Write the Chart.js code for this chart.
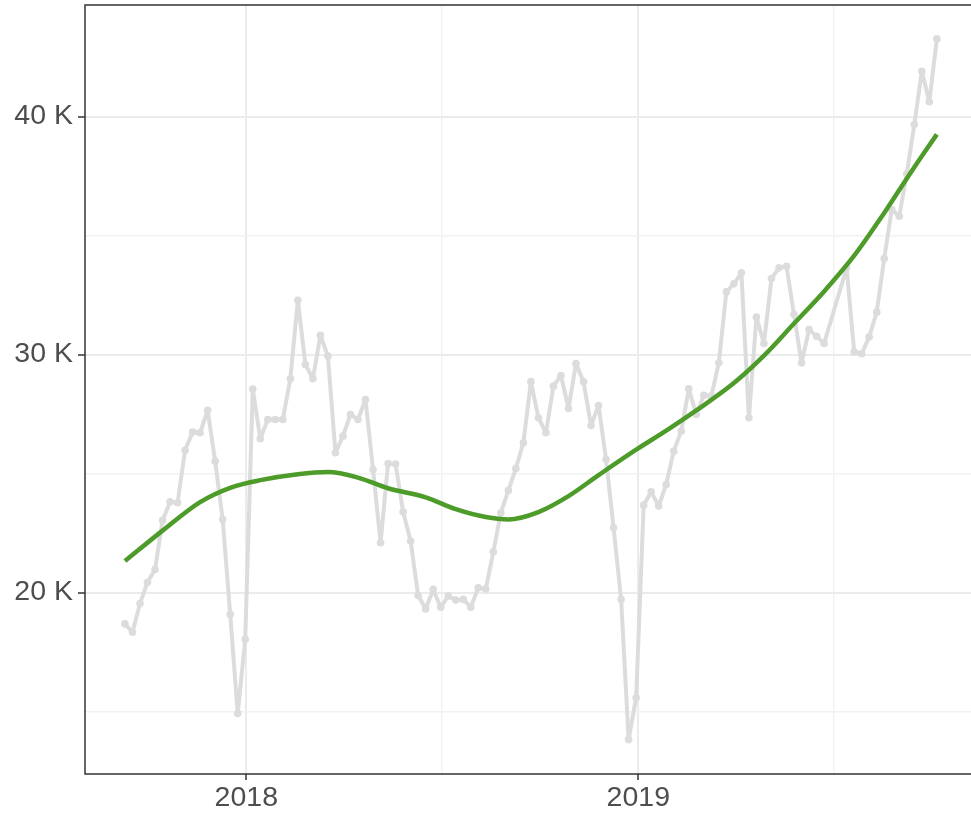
<!DOCTYPE html>
<html>
<head>
<meta charset="utf-8">
<script src="https://cdn.jsdelivr.net/npm/chart.js@4.4.1/dist/chart.umd.min.js"></script>
<style>
  html, body { margin: 0; padding: 0; background: #ffffff; }
  #wrap { width: 971px; height: 813px; }
</style>
</head>
<body>
<div id="wrap"><canvas id="myChart" width="971" height="813"></canvas></div>
<script>
// weekly counts (gray line with dots)
const weekDates = [
    '2017-09-10','2017-09-17','2017-09-24','2017-10-01','2017-10-08','2017-10-15','2017-10-22','2017-10-29',
    '2017-11-05','2017-11-12','2017-11-19','2017-11-26','2017-12-03','2017-12-10','2017-12-17','2017-12-24','2017-12-31',
    '2018-01-07','2018-01-14','2018-01-21','2018-01-28','2018-02-04','2018-02-11','2018-02-18','2018-02-25',
    '2018-03-04','2018-03-11','2018-03-18','2018-03-25','2018-04-01','2018-04-08','2018-04-15','2018-04-22','2018-04-29',
    '2018-05-06','2018-05-13','2018-05-20','2018-05-27','2018-06-03','2018-06-10','2018-06-17','2018-06-24',
    '2018-07-01','2018-07-08','2018-07-15','2018-07-22','2018-07-29','2018-08-05','2018-08-12','2018-08-19','2018-08-26',
    '2018-09-02','2018-09-09','2018-09-16','2018-09-23','2018-09-30','2018-10-07','2018-10-14','2018-10-21','2018-10-28',
    '2018-11-04','2018-11-11','2018-11-18','2018-11-25','2018-12-02','2018-12-09','2018-12-16','2018-12-23','2018-12-30',
    '2019-01-06','2019-01-13','2019-01-20','2019-01-27','2019-02-03','2019-02-10','2019-02-17','2019-02-24',
    '2019-03-03','2019-03-10','2019-03-17','2019-03-24','2019-03-31','2019-04-07','2019-04-14','2019-04-21','2019-04-28',
    '2019-05-05','2019-05-12','2019-05-19','2019-05-26','2019-06-02','2019-06-09','2019-06-16','2019-06-23',
    '2019-07-14','2019-07-21','2019-07-28','2019-08-04','2019-08-11','2019-08-18','2019-08-25',
    '2019-09-01','2019-09-08','2019-09-15','2019-09-22','2019-09-29','2019-10-06'
];
const weeklyValues = [
    18680, 18330, 19540, 20430, 20970, 23030, 23810, 23770,
    25980, 26740, 26710, 27660, 25520, 23070, 19080, 14920, 18030,
    28550, 26460, 27270, 27270, 27270, 28980, 32280, 29580,
    28980, 30810, 29930, 25870, 26570, 27480, 27270, 28110, 25170,
    22090, 25420, 25400, 23390, 22160, 19870, 19310, 20130,
    19380, 19850, 19680, 19710, 19380, 20200, 20150, 21710, 23350,
    24290, 25210, 26290, 28860, 27340, 26710, 28670, 29120, 27730,
    29620, 28850, 27020, 27860, 25590, 22720, 19710, 13820, 15580,
    23670, 24230, 23630, 24540, 25940, 26780, 28560, 27480,
    28290, 28250, 29650, 32630, 32970, 33430, 27340, 31570, 30460,
    33190, 33640, 33710, 31680, 29650, 31050, 30770, 30460,
    33640, 30110, 30030, 30740, 31780, 34030, 36090,
    35810, 37590, 39660, 41900, 40620, 43260
];

// smoothed trend (green)
const trendDates = [
    '2017-09-10','2017-10-15','2017-11-19','2017-12-17','2018-01-14','2018-02-18','2018-03-18',
    '2018-04-15','2018-05-13','2018-06-17','2018-07-15','2018-08-12','2018-09-02','2018-09-30',
    '2018-10-28','2018-11-25','2018-12-30','2019-01-27','2019-02-24','2019-03-31','2019-04-28',
    '2019-05-26','2019-06-23','2019-07-21','2019-08-18','2019-09-15','2019-10-06'
];
const trendValues = [
    21320, 22600, 23800, 24400, 24720, 24970, 25060,
    24830, 24380, 24000, 23500, 23170, 23070, 23380,
    24050, 24930, 26000, 26800, 27650, 28800, 29950,
    31300, 32650, 34150, 35950, 37870, 39250
];

const xTickDates = ['2018-01-01', '2018-07-02', '2019-01-01', '2019-07-02'];
const xTickLabels = ['2018', '', '2019', ''];
const yTickValues = [15000, 20000, 25000, 30000, 35000, 40000];
const yTickLabels = ['', '20 K', '', '30 K', '', '40 K'];

const toPoints = (dates, values) => dates.map((d, i) => ({ x: Date.parse(d), y: values[i] }));

// panel runs to the right edge of the canvas
const fullWidthPanel = {
    id: 'fullWidthPanel',
    afterLayout(chart) {
        const a = chart.chartArea;
        const x = chart.scales.x;
        a.right = chart.width;
        a.width = a.right - a.left;
        x.right = a.right;
        x.width = a.right - x.left;
        x.configure();
    }
};

const panelBorder = {
    id: 'panelBorder',
    afterDraw(chart) {
        const { ctx, chartArea: a } = chart;
        ctx.save();
        ctx.strokeStyle = '#333333';
        ctx.lineWidth = 1.5;
        ctx.strokeRect(a.left, a.top, a.right - a.left + 6, a.bottom - a.top);
        ctx.restore();
    }
};

const tickFont = { family: "'Liberation Sans', Arial, sans-serif", size: 28.5 };
const isMajor = (labels, i) => !!labels[i];

let ctx = document.getElementById('myChart').getContext('2d');

let myChart = new Chart(ctx, {
    type: 'line',
    data: {
        datasets: [
            {
                label: 'trend',
                data: toPoints(trendDates, trendValues),
                borderColor: '#4d9b29',
                borderWidth: 4.5,
                pointRadius: 0,
                cubicInterpolationMode: 'monotone',
                fill: false
            },
            {
                label: 'weekly',
                data: toPoints(weekDates, weeklyValues),
                borderColor: '#dcdcdc',
                backgroundColor: '#dcdcdc',
                borderWidth: 4,
                borderJoinStyle: 'round',
                borderCapStyle: 'round',
                pointRadius: 3.8,
                pointBorderWidth: 0,
                pointBackgroundColor: '#dcdcdc',
                tension: 0,
                fill: false
            }
        ]
    },
    options: {
        responsive: false,
        animation: false,
        devicePixelRatio: 1,
        layout: { padding: { top: 5, right: 0, bottom: 0, left: 0 } },
        plugins: {
            legend: { display: false },
            title: { display: false },
            tooltip: { enabled: false }
        },
        scales: {
            x: {
                type: 'linear',
                min: Date.parse('2017-08-03T19:12:00Z'),
                max: Date.parse('2019-11-06T19:12:00Z'),
                afterBuildTicks: (scale) => {
                    scale.ticks = xTickDates.map(d => ({ value: Date.parse(d) }));
                },
                afterFit: (scale) => {
                    scale.height = 39;
                    scale.paddingLeft = 0;
                    scale.paddingRight = 0;
                },
                border: { display: false },
                grid: {
                    color: (c) => isMajor(xTickLabels, c.index) ? '#ebebeb' : '#f2f2f2',
                    lineWidth: (c) => isMajor(xTickLabels, c.index) ? 2 : 1.5,
                    tickColor: (c) => isMajor(xTickLabels, c.index) ? '#333333' : 'rgba(0,0,0,0)',
                    tickWidth: 1.5,
                    tickLength: 6
                },
                ticks: {
                    autoSkip: false,
                    maxRotation: 0,
                    padding: 1,
                    color: '#4d4d4d',
                    font: tickFont,
                    callback: (value, index) => xTickLabels[index]
                }
            },
            y: {
                min: 12374,
                max: 44685,
                afterBuildTicks: (scale) => {
                    scale.ticks = yTickValues.map(v => ({ value: v }));
                },
                afterFit: (scale) => {
                    scale.width = 85;
                    scale.paddingTop = 0;
                    scale.paddingBottom = 0;
                },
                border: { display: false },
                grid: {
                    color: (c) => isMajor(yTickLabels, c.index) ? '#ebebeb' : '#f2f2f2',
                    lineWidth: (c) => isMajor(yTickLabels, c.index) ? 2 : 1.5,
                    tickColor: (c) => isMajor(yTickLabels, c.index) ? '#333333' : 'rgba(0,0,0,0)',
                    tickWidth: 1.5,
                    tickLength: 7
                },
                ticks: {
                    autoSkip: false,
                    padding: 5,
                    color: '#4d4d4d',
                    font: tickFont,
                    callback: (value, index) => yTickLabels[index]
                }
            }
        }
    },
    plugins: [fullWidthPanel, panelBorder]
});
</script>
</body>
</html>
